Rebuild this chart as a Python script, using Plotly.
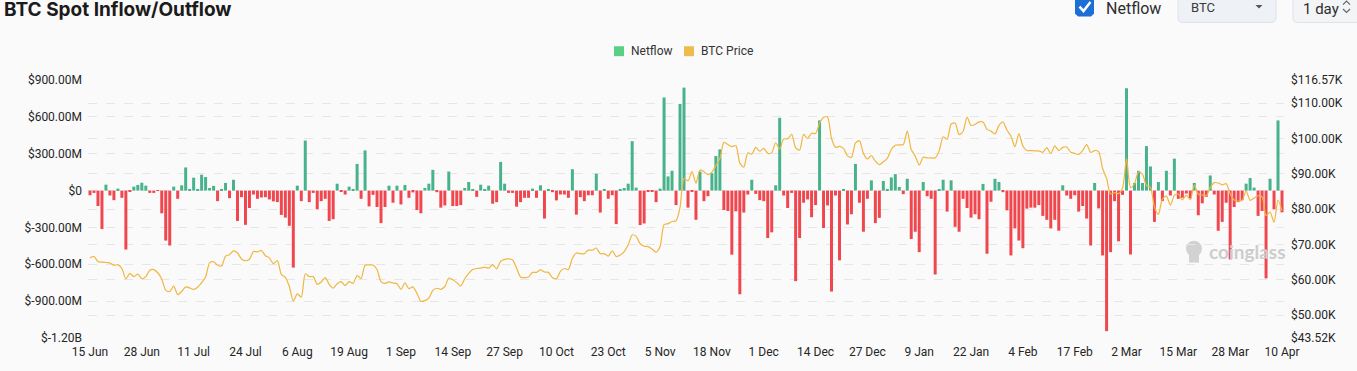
import plotly.graph_objects as go
import pandas as pd

# ---------------- data ----------------
start_date = "2024-06-15"
n_days = 300
dates = pd.date_range(start_date, periods=n_days, freq="D")

# Daily BTC spot netflow, in millions of USD
netflow_musd = [
    -38, -19, -126, -313, 48, -40, -78, 16, -59, -480,
    -11, 32, 46, 64, 40, -19, -19, -3, -185, -407,
    -447, 32, -67, 43, 188, 13, 105, 8, 129, 110,
    21, 38, -86, 8, 62, -62, 88, -247, -54, -279,
    -142, -32, -67, -56, -54, -72, -88, -94, -198, -220,
    -287, -627, 40, -86, 407, -94, -19, -153, -86, -67,
    -247, -233, 56, -11, -32, 32, 8, 217, -67, 327,
    -129, -35, -134, -265, -134, 40, -99, 40, -113, 46,
    -59, -15, -158, -185, 21, 56, 169, -13, -139, -121,
    155, -126, -126, -118, 21, 70, 13, -51, 48, 8,
    40, -107, -94, 233, 56, -19, -19, -131, -94, -59,
    -59, 16, -59, 43, -228, 8, -13, -80, -32, -32,
    -59, 174, -196, -54, -86, -38, -38, 137, -179, 8,
    -67, -38, -273, 13, 21, 56, 402, 24, -281, -268,
    -11, -11, -94, 16, 758, 115, 161, -118, 705, 838,
    -139, -11, -238, 155, -86, -46, 142, 281, 335, -158,
    -166, -522, -169, -844, -179, -32, 88, -27, -78, -86,
    -386, -340, 43, 592, -40, -142, -19, -737, -386, -99,
    -72, -217, -118, 571, -305, -121, -822, -40, -568, 8,
    -276, -193, 217, -99, -335, -67, 83, -265, -222, 78,
    8, 107, 134, 29, -29, 96, -394, -335, -501, 70,
    -46, -67, -683, 13, 88, -171, 83, -295, -335, -67,
    -142, -220, -193, -233, 54, -514, -91, 96, 70, -13,
    -161, -528, -308, -407, -469, -147, -139, -139, -118, -206,
    -238, -308, -238, -327, 43, -40, -67, -38, -171, -126,
    -228, -447, 62, -145, -528, -1144, -501, -86, -413, -35,
    833, -520, 62, 161, 62, 362, 196, -255, 70, -86,
    161, -40, 260, -67, -59, -24, -64, 62, -201, -104,
    -51, 123, -32, -327, -255, -99, -560, -134, -94, -78,
    56, 102, 24, -206, -166, -715, 96, -153, 571, -177,
]

# Daily BTC price, in thousands of USD
btc_price_k = [
    # Jun 15-30
    66.2, 66.6, 65.2, 65.0, 64.9, 64.8, 64.1, 64.3, 63.2, 60.3, 61.8, 60.9, 61.6, 60.3, 60.9, 62.7,
    # Jul
    62.9, 62.0, 60.2, 57.0, 56.7, 58.2, 55.8, 56.7, 58.0, 57.7, 57.3, 57.9, 59.2, 60.8, 64.8, 65.1,
    64.1, 63.9, 66.7, 67.1, 68.2, 67.6, 65.9, 65.4, 65.8, 68.0, 67.9, 68.3, 66.8, 66.2, 64.6,
    # Aug
    65.4, 61.5, 60.7, 58.1, 54.0, 56.0, 55.1, 61.7, 60.9, 60.9, 58.7, 59.4, 60.6, 58.7, 57.6, 58.9,
    59.5, 58.4, 59.5, 59.0, 61.2, 60.4, 64.1, 64.2, 64.2, 62.9, 59.5, 59.0, 59.4, 59.1, 58.9,
    # Sep
    57.3, 59.1, 57.5, 58.0, 56.2, 53.9, 54.1, 54.8, 57.0, 57.6, 57.3, 58.1, 60.5, 60.0, 59.2,
    58.2, 60.3, 61.8, 62.9, 63.2, 63.3, 63.6, 63.3, 64.3, 63.1, 65.2, 65.8, 65.9, 65.6, 63.3,
    # Oct
    60.8, 60.6, 60.8, 62.1, 62.1, 62.8, 62.2, 62.1, 60.6, 60.3, 62.4, 63.2, 62.9, 66.1, 67.6, 67.4,
    67.4, 68.4, 68.4, 69.0, 67.4, 67.4, 66.7, 68.2, 66.6, 67.0, 68.0, 69.9, 72.7, 72.3, 70.2,
    # Nov
    69.5, 69.4, 68.7, 67.8, 69.4, 75.6, 75.9, 76.5, 76.7, 80.5, 88.7, 88.0, 90.6, 87.3, 91.1,
    90.6, 89.8, 90.5, 92.3, 94.3, 98.9, 98.3, 97.7, 98.0, 93.1, 91.9, 95.9, 95.6, 97.5, 96.4,
    # Dec
    97.2, 95.8, 96.0, 98.8, 97.0, 99.9, 99.9, 101.2, 97.4, 96.7, 101.2, 100.0, 101.5, 101.4, 104.3, 106.0,
    106.1, 100.0, 97.5, 97.8, 97.2, 95.1, 94.7, 98.7, 99.4, 95.8, 94.2, 95.2, 93.6, 92.6, 93.4,
    # Jan
    94.4, 96.9, 98.1, 98.2, 98.3, 102.1, 96.9, 95.0, 92.5, 94.7, 94.5, 94.5, 94.5, 96.5, 100.5, 99.8,
    104.1, 104.4, 101.1, 102.0, 106.1, 103.7, 104.0, 104.7, 104.7, 102.6, 102.1, 101.3, 103.7, 104.7, 102.4,
    # Feb
    100.7, 97.7, 101.4, 97.9, 96.6, 96.6, 96.5, 96.5, 96.1, 97.4, 95.7, 97.9, 96.6, 97.5,
    97.6, 96.1, 95.8, 95.5, 96.6, 98.3, 96.1, 96.6, 96.3, 91.5, 88.7, 84.3, 84.7, 84.4,
    # Mar
    86.0, 94.3, 86.1, 87.2, 90.6, 89.9, 86.7, 86.2, 80.6, 78.5, 82.9, 83.7, 81.1, 83.9, 84.3, 82.6,
    84.0, 82.7, 86.8, 84.2, 84.0, 83.8, 86.1, 87.5, 87.4, 86.9, 87.2, 84.4, 82.6, 82.3, 82.5,
    # Apr 1-10
    85.2, 82.5, 83.1, 83.8, 83.5, 78.2, 79.2, 76.3, 82.6, 79.6,
]

x_tick_labels = ["15 Jun", "28 Jun", "11 Jul", "24 Jul", "6 Aug", "19 Aug", "1 Sep", "14 Sep",
                 "27 Sep", "10 Oct", "23 Oct", "5 Nov", "18 Nov", "1 Dec", "14 Dec", "27 Dec",
                 "9 Jan", "22 Jan", "4 Feb", "17 Feb", "2 Mar", "15 Mar", "28 Mar", "10 Apr"]
x_tick_vals = pd.date_range(start_date, periods=len(x_tick_labels), freq="13D")

left_tick_vals = [-1200, -900, -600, -300, 0, 300, 600, 900]
left_tick_text = ["$-1.20B", "$-900.00M", "$-600.00M", "$-300.00M", "$0",
                  "$300.00M", "$600.00M", "$900.00M"]
right_tick_vals = [43.52, 50, 60, 70, 80, 90, 100, 110, 116.57]
right_tick_text = ["$43.52K", "$50.00K", "$60.00K", "$70.00K", "$80.00K",
                   "$90.00K", "$100.00K", "$110.00K", "$116.57K"]

legend_names = ["Netflow", "BTC Price"]

# ---------------- style ----------------
GREEN = "#47b28c"
RED = "#f0474f"
LEGEND_COLORS = ["#5ccf86", "#ecbc4c"]
YELLOW = "#f0b640"
BG = "#fafafa"
GRID = "#e6e6e6"
TXT = "#252525"
FONT = "Roboto, 'Open Sans', sans-serif"

W, H = 1357, 371
L, R, T, B = 88, 73, 80, 31
PW, PH = W - L - R, H - T - B


def px(x):
    return (x - L) / PW


def py(y):
    return (H - B - y) / PH


bar_colors = [GREEN if v >= 0 else RED for v in netflow_musd]

fig = go.Figure()
fig.add_trace(go.Bar(x=dates, y=netflow_musd, marker=dict(color=bar_colors, line=dict(width=0)),
                     name=legend_names[0], showlegend=False, yaxis="y"))
fig.add_trace(go.Scatter(x=dates, y=btc_price_k, mode="lines", name=legend_names[1], yaxis="y2",
                         line=dict(color=YELLOW, width=1.2, shape="spline", smoothing=0.7),
                         showlegend=False))

x0 = dates[0] - pd.Timedelta(hours=12)
x1 = dates[-1] + pd.Timedelta(hours=12)

fig.update_layout(
    width=W, height=H,
    margin=dict(l=L, r=R, t=T, b=B),
    paper_bgcolor=BG, plot_bgcolor=BG,
    font=dict(family=FONT, size=12, color=TXT),
    bargap=0.25,
    showlegend=False,
    xaxis=dict(type="date", range=[x0, x1], tickmode="array", tickvals=x_tick_vals,
               ticktext=x_tick_labels, showgrid=False, zeroline=False, showline=False,
               ticks="outside", ticklen=3, tickcolor="rgba(0,0,0,0)",
               tickfont=dict(size=12, color=TXT)),
    yaxis=dict(range=[-1200, 900], tickmode="array", tickvals=left_tick_vals,
               ticktext=left_tick_text, showgrid=True, gridcolor=GRID, griddash="dash",
               gridwidth=1, zeroline=False, showline=False, ticks="", ticklabelstandoff=5,
               tickfont=dict(size=12, color=TXT)),
    yaxis2=dict(range=[43.52, 116.57], overlaying="y", side="right", tickmode="array",
                tickvals=right_tick_vals, ticktext=right_tick_text, showgrid=True,
                gridcolor=GRID, griddash="dash", gridwidth=1, zeroline=False,
                showline=False, ticks="", ticklabelstandoff=6,
                tickfont=dict(size=12, color=TXT)),
)

shapes = []
annotations = []

# Legend (drawn manually for exact spacing)
for name, color, sx in zip(legend_names, LEGEND_COLORS, [614, 684]):
    shapes.append(dict(type="rect", xref="paper", yref="paper",
                       x0=px(sx), x1=px(sx + 10), y0=py(56), y1=py(46),
                       fillcolor=color, line=dict(width=0)))
    annotations.append(dict(xref="paper", yref="paper", x=px(sx + 15), y=py(51), xanchor="left",
                            yanchor="middle", text=name, showarrow=False,
                            font=dict(family=FONT, size=12, color="#333333")))

# Title (sits at the very top edge, as in the source)
annotations.append(dict(xref="paper", yref="paper", x=px(2), y=py(9), xanchor="left",
                        yanchor="middle", text="<b>BTC Spot Inflow/Outflow</b>", showarrow=False,
                        font=dict(family="Inter, Roboto, sans-serif", size=19, color="#1b1b1b")))

# Checkbox
cx0, cx1, cy0, cy1 = 1075, 1094, -4, 16
r = 3
shapes.append(dict(type="path", xref="paper", yref="paper",
                   path=(f"M {px(cx0 + r)},{py(cy0)} L {px(cx1 - r)},{py(cy0)} "
                         f"L {px(cx1)},{py(cy0 + r)} L {px(cx1)},{py(cy1 - r)} "
                         f"L {px(cx1 - r)},{py(cy1)} L {px(cx0 + r)},{py(cy1)} "
                         f"L {px(cx0)},{py(cy1 - r)} L {px(cx0)},{py(cy0 + r)} Z"),
                   fillcolor="#1e6fd5", line=dict(width=0)))
shapes.append(dict(type="path", xref="paper", yref="paper",
                   path=f"M {px(1079.5)},{py(6)} L {px(1083.5)},{py(10.5)} L {px(1090.5)},{py(1.5)}",
                   line=dict(color="white", width=2.5)))
annotations.append(dict(xref="paper", yref="paper", x=px(1104), y=py(8), xanchor="left",
                        yanchor="middle", text="Netflow", showarrow=False,
                        font=dict(family=FONT, size=16, color="#2d2d2d")))


def rounded_box(xa, ya, xb, yb, rad, fill, border):
    return dict(type="path", xref="paper", yref="paper",
                path=(f"M {px(xa + rad)},{py(ya)} L {px(xb - rad)},{py(ya)} "
                      f"Q {px(xb)},{py(ya)} {px(xb)},{py(ya + rad)} L {px(xb)},{py(yb - rad)} "
                      f"Q {px(xb)},{py(yb)} {px(xb - rad)},{py(yb)} L {px(xa + rad)},{py(yb)} "
                      f"Q {px(xa)},{py(yb)} {px(xa)},{py(yb - rad)} L {px(xa)},{py(ya + rad)} "
                      f"Q {px(xa)},{py(ya)} {px(xa + rad)},{py(ya)} Z"),
                fillcolor=fill, line=dict(color=border, width=1))


# BTC dropdown
shapes.append(rounded_box(1178, -10, 1276, 22, 5, "#eef1f5", "#dde3ea"))
annotations.append(dict(xref="paper", yref="paper", x=px(1189), y=py(7), xanchor="left",
                        yanchor="middle", text="BTC", showarrow=False,
                        font=dict(family=FONT, size=13, color="#3a3a3a")))
shapes.append(dict(type="path", xref="paper", yref="paper",
                   path=f"M {px(1255.5)},{py(4.5)} L {px(1262.5)},{py(4.5)} L {px(1259)},{py(8)} Z",
                   fillcolor="#555555", line=dict(width=0)))

# Interval selector
shapes.append(rounded_box(1293, -10, 1368, 22, 5, "#f3f4f6", "#dde3ea"))
annotations.append(dict(xref="paper", yref="paper", x=px(1301), y=py(8), xanchor="left",
                        yanchor="middle", text="1 day", showarrow=False,
                        font=dict(family=FONT, size=15, color="#2d2d2d")))
shapes.append(dict(type="path", xref="paper", yref="paper",
                   path=f"M {px(1343)},{py(4)} L {px(1346.5)},{py(0.5)} L {px(1350)},{py(4)}",
                   line=dict(color="#666666", width=1.2)))
shapes.append(dict(type="path", xref="paper", yref="paper",
                   path=f"M {px(1343)},{py(8.5)} L {px(1346.5)},{py(12)} L {px(1350)},{py(8.5)}",
                   line=dict(color="#666666", width=1.2)))

# Watermark
shapes.append(dict(type="circle", xref="paper", yref="paper",
                   x0=px(1186), x1=px(1202), y0=py(258), y1=py(242),
                   fillcolor="#d2d2d2", line=dict(width=0), layer="below"))
shapes.append(dict(type="rect", xref="paper", yref="paper",
                   x0=px(1189), x1=px(1199), y0=py(264), y1=py(255),
                   fillcolor="#d2d2d2", line=dict(width=0), layer="below"))
annotations.append(dict(xref="paper", yref="paper", x=px(1207), y=py(253), xanchor="left",
                        yanchor="middle", text="<b>coinglass</b>", showarrow=False,
                        font=dict(family="Lato, Roboto, sans-serif", size=19, color="#cdcdcd")))

fig.update_layout(shapes=shapes, annotations=annotations)

fig.write_html("out.html", config={"displayModeBar": False},
               post_script="document.body.style.margin='0';document.body.style.overflow='hidden';")
